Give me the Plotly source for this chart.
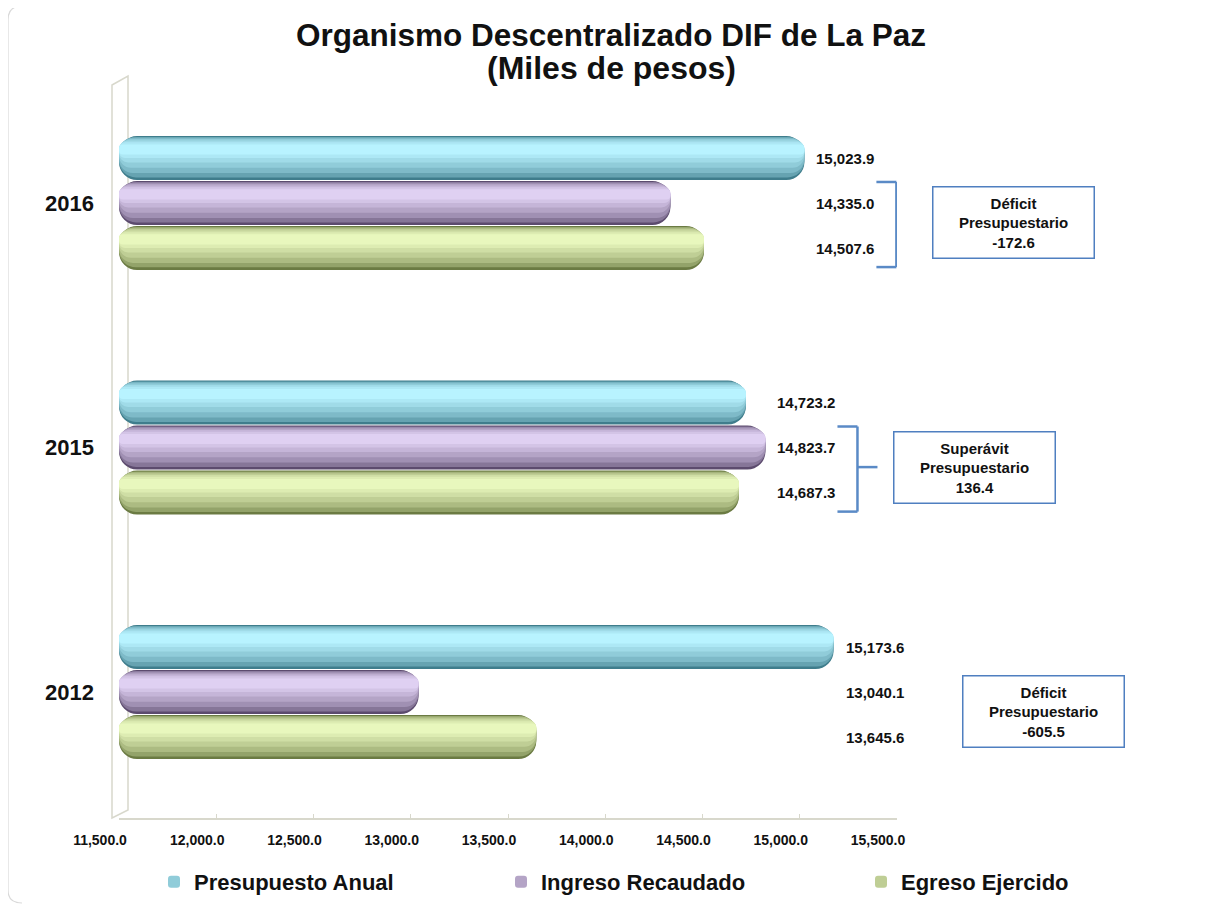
import plotly.graph_objects as go

# Valores en miles de pesos
years = ["2016", "2015", "2012"]
year_pos = [2, 1, 0]
series_names = ["Presupuesto Anual", "Ingreso Recaudado", "Egreso Ejercido"]
presupuesto = [15023.9, 14723.2, 15173.6]
ingreso = [14335.0, 14823.7, 13040.1]
egreso = [14507.6, 14687.3, 13645.6]
x_ticks = [11500, 12000, 12500, 13000, 13500, 14000, 14500, 15000, 15500]

series_values = [presupuesto, ingreso, egreso]

# dark edge / highlight colour of each cylinder
dark_light = [
    ((0x3f, 0x7d, 0x8c), (0xb8, 0xf3, 0xff)),
    ((0x5c, 0x4b, 0x6e), (0xdf, 0xd0, 0xf2)),
    ((0x6b, 0x7b, 0x43), (0xe8, 0xf7, 0xbd)),
]
# nested bands (bottom, top) as fraction of bar thickness, with blend amount
layers = [(0.0, 1.0, 0.0), (0.06, 0.98, 0.32), (0.16, 0.96, 0.52), (0.28, 0.93, 0.67),
          (0.40, 0.90, 0.80), (0.50, 0.86, 0.91), (0.58, 0.81, 1.0)]


def blend(c0, c1, t):
    return "#%02x%02x%02x" % tuple(round(a + (b - a) * t) for a, b in zip(c0, c1))


W, H = 1207, 906
O = 8  # page body margin
L, R, T, B = 111, 318, 66, 96
PW, PH = W - L - R, H - T - B


def px(x):
    return (x - O - L) / PW


def py(y):
    return (H - B - (y - O)) / PH


bar_h = 0.18
slot = [0.184, 0.0, -0.184]
font = "Arial, Liberation Sans"
legend_ids = ["legend", "legend2", "legend3"]
legend_x = [154, 501, 861]

fig = go.Figure()

for i, name in enumerate(series_names):
    c0, c1 = dark_light[i]
    for k, (lo, hi, t) in enumerate(layers):
        fig.add_trace(go.Bar(
            y=year_pos,
            x=[v - 11500 for v in series_values[i]],
            base=11500,
            orientation="h",
            offset=slot[i] - bar_h / 2 + lo * bar_h,
            width=(hi - lo) * bar_h,
            marker=dict(color=blend(c0, c1, t), line=dict(width=0), cornerradius="42%"),
            name=name,
            showlegend=(k == 3),
            legend=legend_ids[i],
            legendgroup=name,
            hoverinfo="skip" if k != 0 else "x+name",
        ))

annotations = []
shapes = []

for j, yp in enumerate(year_pos):
    group = [s[j] for s in series_values]
    anchor = max(group)
    # data labels
    for i in range(3):
        annotations.append(dict(
            x=anchor, y=yp + slot[i], xref="x", yref="y",
            xanchor="left", yanchor="middle", xshift=10, showarrow=False,
            text=f"<b>{group[i]:,.1f}</b>",
            font=dict(family=font, size=15, color="#111111"),
        ))
    # bracket
    top, bot, mid = yp + 0.086, yp - 0.262, yp - 0.08
    br = dict(type="line", xref="x", yref="y", xsizemode="pixel", xanchor=anchor,
              line=dict(color="#5a8ac6", width=2.5))
    shapes.append(dict(br, x0=92, x1=92, y0=bot, y1=top))
    shapes.append(dict(br, x0=72, x1=92, y0=top, y1=top))
    shapes.append(dict(br, x0=72, x1=92, y0=bot, y1=bot))
    shapes.append(dict(br, x0=92, x1=112, y0=mid, y1=mid))
    # result box
    bal = group[1] - group[2]
    kind = "Déficit" if bal < 0 else "Superávit"
    annotations.append(dict(
        x=anchor, y=mid, xref="x", yref="y", xanchor="left", yanchor="middle",
        xshift=128, showarrow=False, width=156, height=66, borderpad=2,
        bordercolor="#4f7fc0", borderwidth=1.5, bgcolor="white", align="center",
        text=f"<b>{kind}<br>Presupuestario<br>{bal:,.1f}</b>",
        font=dict(family=font, size=15, color="#111111"),
    ))

# second title line
annotations.append(dict(
    x=px(611), y=py(68), xref="paper", yref="paper", xanchor="center", yanchor="middle",
    showarrow=False, text="<b>(Miles de pesos)</b>",
    font=dict(family=font, size=32, color="#111111"),
))

# 3D back wall
shapes.append(dict(
    type="path", xref="paper", yref="paper", layer="below",
    path=(f"M {px(112)},{py(85)} L {px(128)},{py(76)} L {px(128)},{py(810)} "
          f"L {px(112)},{py(818)} Z"),
    line=dict(color="#d8d8cc", width=1.5),
))
# outer chart border
shapes.append(dict(
    type="path", xref="paper", yref="paper", layer="below",
    path=(f"M {px(1215)},{py(6)} L {px(22)},{py(6)} Q {px(8)},{py(6)} {px(8)},{py(20)} "
          f"L {px(8)},{py(890)} Q {px(8)},{py(903)} {px(22)},{py(903)}"),
    line=dict(color="#d9d9d9", width=1.2),
))

legend_style = dict(
    orientation="h", y=py(882), xanchor="left", yanchor="middle",
    bgcolor="rgba(0,0,0,0)",
    font=dict(family=font, size=22, color="#111111", weight="bold"),
)

fig.update_layout(
    width=W, height=H,
    margin=dict(l=L, r=R, t=T, b=B, autoexpand=False),
    paper_bgcolor="white", plot_bgcolor="white",
    barmode="overlay",
    title=dict(
        text="<b>Organismo Descentralizado DIF de La Paz</b>",
        x=(611 - O) / W, xref="container", xanchor="center",
        y=1 - (35 - O) / H, yref="container", yanchor="middle",
        font=dict(family=font, size=31.5, color="#111111"),
    ),
    xaxis=dict(
        range=[11500, 15500], tickvals=x_ticks,
        ticktext=[f"{v:,.1f}" for v in x_ticks],
        showgrid=False, zeroline=False, showline=True, linecolor="#d8d8cc", linewidth=1.5,
        ticks="inside", ticklen=4, tickcolor="#d8d8cc", ticklabelshift=-19,
        ticklabelstandoff=8,
        tickfont=dict(family=font, size=14, color="#111111", weight="bold"),
    ),
    yaxis=dict(
        range=[-0.515, 2.5276], tickvals=year_pos, ticktext=years,
        showgrid=False, zeroline=False, showline=False, ticks="", ticklabelstandoff=24,
        tickfont=dict(family=font, size=22, color="#111111", weight="bold"),
    ),
    legend=dict(legend_style, x=px(legend_x[0])),
    legend2=dict(legend_style, x=px(legend_x[1])),
    legend3=dict(legend_style, x=px(legend_x[2])),
    annotations=annotations,
    shapes=shapes,
    showlegend=True,
)

fig.write_html("out.html")
